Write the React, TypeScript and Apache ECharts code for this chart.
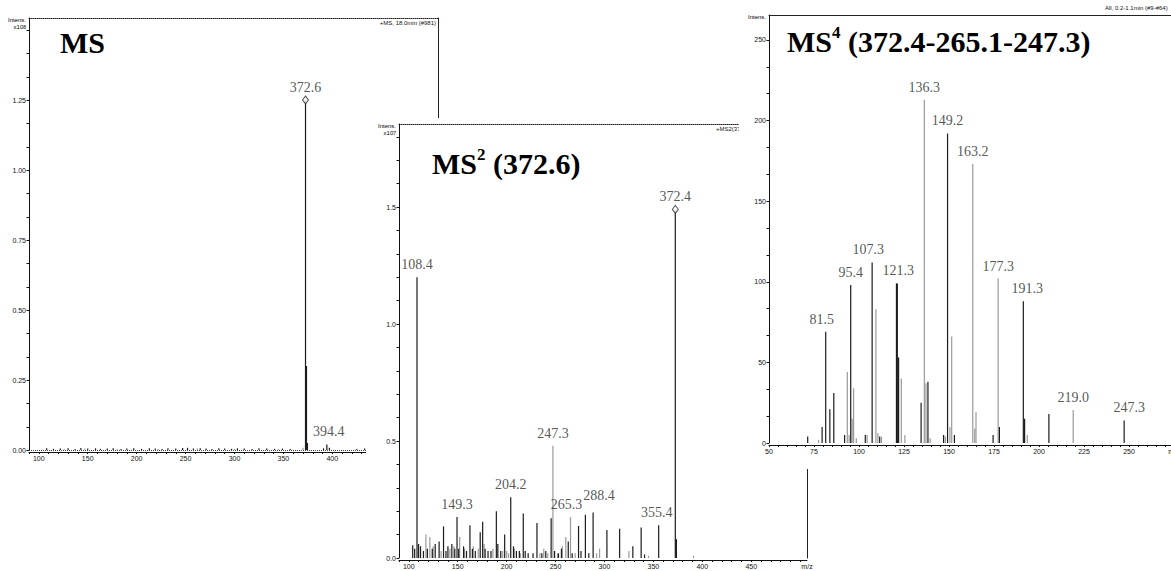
import React, { useEffect, useRef } from 'react';
import * as echarts from 'echarts';

// ---------- DATA ----------
// Panel 1: MS full scan (intensity x10^8)
const ms1Black: [number, number][] = [
  [108, 0.006], [115, 0.004], [122, 0.005], [130, 0.006], [137, 0.004], [143, 0.007], [150, 0.005],
  [158, 0.006], [163, 0.004], [170, 0.005], [176, 0.006], [184, 0.004], [190, 0.005], [197, 0.006],
  [205, 0.004], [213, 0.006], [219, 0.005], [226, 0.004], [232, 0.006], [240, 0.005], [247, 0.007],
  [252, 0.008], [258, 0.005], [265, 0.006], [271, 0.005], [277, 0.004], [284, 0.006], [290, 0.005],
  [297, 0.004], [303, 0.006], [310, 0.005], [318, 0.004], [325, 0.006], [333, 0.005], [341, 0.004],
  [349, 0.005], [357, 0.004], [372.6, 1.25], [373.6, 0.3], [374.6, 0.025], [391, 0.006],
  [394.4, 0.02], [397, 0.008], [425, 0.004], [433, 0.005],
];
const ms1Grey: [number, number][] = [
  [126, 0.004], [147, 0.005], [180, 0.004], [222, 0.004], [262, 0.005], [300, 0.004], [345, 0.004], [370, 0.008],
];
const ms1Labeled = [372.6, 394.4];
const ms1Precursor = [372.6];

// Panel 2: MS2 (372.6) (intensity x10^7)
const ms2Black: [number, number][] = [
  [104, 0.055], [106, 0.04], [108.4, 1.2], [110, 0.06], [112, 0.05], [115, 0.03], [119, 0.04], [124, 0.04],
  [127, 0.06], [131, 0.07], [135.5, 0.135], [138, 0.03], [140, 0.05], [144, 0.06], [147, 0.04], [149.3, 0.175],
  [151, 0.04], [156, 0.05], [159, 0.03], [162.5, 0.14], [165, 0.04], [168, 0.03], [173, 0.11], [175.5, 0.155],
  [178, 0.04], [181, 0.03], [184, 0.03], [189.5, 0.2], [191, 0.06], [194, 0.03], [198, 0.1], [204.2, 0.26],
  [207, 0.05], [210, 0.03], [213, 0.03], [217, 0.19], [219, 0.03], [222, 0.02], [227, 0.02], [231, 0.15],
  [236, 0.02], [240, 0.03], [245.5, 0.17], [249, 0.03], [253, 0.02], [256, 0.04], [263, 0.07], [267, 0.02],
  [273.5, 0.137], [276, 0.03], [280.5, 0.185], [284, 0.02], [288.4, 0.195], [302.5, 0.12], [315.5, 0.125],
  [329, 0.05], [337.5, 0.13], [341, 0.015], [355.4, 0.14], [372.4, 1.49], [373.2, 0.08], [373.5, 0.08],
];
const ms2Grey: [number, number][] = [
  [117.5, 0.1], [121.5, 0.09], [125, 0.05], [133, 0.03], [142, 0.04], [146, 0.05], [152, 0.09], [157, 0.04],
  [166, 0.05], [171, 0.04], [177, 0.06], [186, 0.04], [196, 0.03], [200, 0.03], [202, 0.02], [208, 0.04],
  [214, 0.02], [234, 0.02], [238, 0.04], [242, 0.02], [247.3, 0.48], [252, 0.02], [257, 0.05], [260.5, 0.09],
  [265.3, 0.175], [270, 0.02], [292, 0.02], [295, 0.04], [325, 0.03], [345, 0.01], [391, 0.01],
];
const ms2Labeled = [108.4, 149.3, 204.2, 247.3, 265.3, 288.4, 355.4, 372.4];
const ms2Precursor = [372.4];

// Panel 3: MS4 (372.4-265.1-247.3) (intensity, counts)
const ms4Black: [number, number][] = [
  [71.5, 4], [79.5, 10], [81.5, 69], [83.8, 21], [86, 31], [92, 5], [95.4, 98], [103.5, 5], [107.3, 112],
  [111.5, 4], [120.8, 99], [121.3, 99], [122, 53], [134.5, 25], [138.3, 38], [147, 5], [149.2, 192],
  [153, 5], [174.5, 5], [178, 10], [191.3, 88], [192, 15], [205.5, 18], [247.3, 14],
];
const ms4Grey: [number, number][] = [
  [77.5, 2], [93.5, 44], [94.5, 5], [96.2, 15], [97, 34], [98.5, 3], [104.5, 5], [109.4, 83], [110.5, 6],
  [112.5, 4], [123.5, 40], [125.5, 5], [136.3, 213], [137.2, 37], [139.5, 3], [148, 4], [150.5, 10],
  [151.5, 66], [163.2, 173], [164.3, 9], [165, 19], [177.3, 102], [193.5, 5], [219.0, 20.5],
];
const ms4Labeled = [81.5, 95.4, 107.3, 121.3, 136.3, 149.2, 163.2, 177.3, 191.3, 219.0, 247.3];

// Axis ticks / labels
const ms1XLabels = [100, 150, 200, 250, 300, 350, 400];
const ms1YLabels = [0, 0.25, 0.5, 0.75, 1.0, 1.25];
const ms2XLabels = [100, 150, 200, 250, 300, 350, 400, 450];
const ms2YLabels = [0, 0.5, 1.0, 1.5];
const ms4XLabels = [50, 75, 100, 125, 150, 175, 200, 225, 250];
const ms4YLabels = [0, 50, 100, 150, 200, 250];

// ---------- helpers ----------
const range = (a: number, b: number, step: number) => {
  const out: number[] = [];
  for (let v = a; v <= b + 1e-9; v += step) out.push(Math.round(v * 1000) / 1000);
  return out;
};

const BLACK = '#1c1c1c';
const GREY = '#9a9a9a';
const tickFont = { fontFamily: 'Liberation Sans, Arial, sans-serif', fontSize: 7, color: '#111' };

type Panel = {
  grid: { left: number; top: number; width: number; height: number };
  xMin: number; xMax: number; yMax: number;
  xLabels: number[]; xTickStep: number;
  yLabels: number[]; yTickStep: number; yTickMax: number; yDigits: number;
  topDotted: boolean;
  black: [number, number][]; grey: [number, number][];
  labeled: number[]; precursor: number[];
  offsets: Record<string, [number, number]>;
  z: number;
};

function App() {
  const ref = useRef<HTMLDivElement>(null);
  useEffect(() => {
    if (!ref.current) return;
    const chart = echarts.init(ref.current, null, { renderer: 'svg' });

    const panels: Panel[] = [
      {
        grid: { left: 29, top: 18, width: 409, height: 432 },
        xMin: 90, xMax: 508, yMax: 1.543,
        xLabels: ms1XLabels, xTickStep: 10,
        yLabels: ms1YLabels, yTickStep: 0.25 / 3, yTickMax: 1.5, yDigits: 2,
        topDotted: true, black: ms1Black, grey: ms1Grey, labeled: ms1Labeled, precursor: ms1Precursor,
        offsets: { '394.4': [2, 0] },
        z: 0,
      },
      {
        grid: { left: 399, top: 124, width: 408, height: 434 },
        xMin: 90, xMax: 507, yMax: 1.855,
        xLabels: ms2XLabels, xTickStep: 10,
        yLabels: ms2YLabels, yTickStep: 0.1, yTickMax: 1.8, yDigits: 1,
        topDotted: true, black: ms2Black, grey: ms2Grey, labeled: ms2Labeled, precursor: ms2Precursor,
        offsets: { '265.3': [-4, 0], '288.4': [6, -4], '355.4': [-2, 0] },
        z: 10,
      },
      {
        grid: { left: 769, top: 15, width: 405, height: 428 },
        xMin: 50, xMax: 275, yMax: 265.5,
        xLabels: ms4XLabels, xTickStep: 5,
        yLabels: ms4YLabels, yTickStep: 50 / 3, yTickMax: 265, yDigits: 0,
        topDotted: false, black: ms4Black, grey: ms4Grey, labeled: ms4Labeled, precursor: [],
        offsets: { '107.3': [-4, 0], '191.3': [4, 0], '247.3': [5, 0], '81.5': [-4, 0], '121.3': [1, 0] },
        z: 20,
      },
    ];

    const grids: any[] = [];
    const xAxes: any[] = [];
    const yAxes: any[] = [];
    const series: any[] = [];

    panels.forEach((p, i) => {
      grids.push({ ...p.grid, show: false, outerBoundsMode: 'none', containLabel: false });
      const xMain = xAxes.length;
      xAxes.push({
        type: 'value', gridIndex: i, min: p.xMin, max: p.xMax, position: 'bottom', offset: 2, z: p.z + 1,
        axisLine: { show: true, onZero: false, lineStyle: { color: '#111', width: 1 } },
        axisTick: { show: true, length: 2, customValues: range(p.xMin, p.xMax, p.xTickStep), lineStyle: { color: '#111' } },
        axisLabel: {
          ...tickFont, margin: 3, customValues: [...p.xLabels, p.xMax],
          formatter: (v: number) => (Math.abs(v - p.xMax) < 1e-6 ? 'm/z' : String(v)),
        },
        splitLine: { show: false },
      });
      xAxes.push({
        type: 'value', gridIndex: i, min: p.xMin, max: p.xMax, position: 'top', z: p.z + 1,
        axisLine: { show: true, onZero: false, lineStyle: { color: '#222', width: 1, type: p.topDotted ? 'dotted' : 'solid' } },
        axisTick: { show: false }, axisLabel: { show: false }, splitLine: { show: false },
      });
      const yMain = yAxes.length;
      yAxes.push({
        type: 'value', gridIndex: i, min: 0, max: p.yMax, position: 'left', z: p.z + 1,
        axisLine: { show: true, onZero: false, lineStyle: { color: '#111', width: 1 } },
        axisTick: { show: true, length: 2.5, customValues: range(0, p.yTickMax, p.yTickStep), lineStyle: { color: '#111' } },
        axisLabel: {
          ...tickFont, margin: 3, customValues: p.yLabels,
          formatter: (v: number) => v.toFixed(p.yDigits),
        },
        splitLine: { show: false },
      });
      yAxes.push({
        type: 'value', gridIndex: i, min: 0, max: p.yMax, position: 'right', z: p.z + 1,
        axisLine: { show: true, onZero: false, lineStyle: { color: '#222', width: 1 } },
        axisTick: { show: false }, axisLabel: { show: false }, splitLine: { show: false },
      });

      const barCommon = {
        type: 'bar', xAxisIndex: xMain, yAxisIndex: yMain, barWidth: 1.2, barGap: '-100%',
        z: p.z + 2, silent: true,
      };
      series.push({
        ...barCommon, name: 'grey' + i, data: p.grey, itemStyle: { color: GREY },
        markLine: {
          silent: true, symbol: 'none', label: { show: false },
          lineStyle: { type: 'dotted', color: '#444', width: 1 }, data: [{ yAxis: 0 }],
        },
      });
      series.push({ ...barCommon, name: 'black' + i, data: p.black, itemStyle: { color: BLACK } });

      const all = [...p.black, ...p.grey];
      const findPeak = (mz: number) => all.find((d) => Math.abs(d[0] - mz) < 1e-6)!;
      const isPrec = (mz: number) => p.precursor.some((m) => Math.abs(m - mz) < 1e-6);
      const labelFont = {
        fontFamily: 'Liberation Serif, Times New Roman, serif', fontSize: 14, color: '#2a2a2a',
      };

      series.push({
        type: 'scatter', xAxisIndex: xMain, yAxisIndex: yMain, z: p.z + 3, silent: true,
        symbolSize: 1, itemStyle: { color: 'rgba(0,0,0,0)' },
        data: p.labeled.filter((m) => !isPrec(m)).map((m) => {
          const pk = findPeak(m);
          const key = pk[0].toFixed(1);
          return { value: pk, label: { offset: p.offsets[key] || [0, 0] } };
        }),
        label: {
          show: true, position: 'top', distance: 5, ...labelFont,
          formatter: (q: any) => q.value[0].toFixed(1),
        },
      });
      if (p.precursor.length) {
        series.push({
          type: 'scatter', xAxisIndex: xMain, yAxisIndex: yMain, z: p.z + 4, silent: true,
          symbol: 'diamond', symbolSize: [6, 8],
          itemStyle: { color: '#fff', borderColor: '#222', borderWidth: 1 },
          data: p.precursor.map((m) => findPeak(m)),
          label: {
            show: true, position: 'top', distance: 1, ...labelFont,
            formatter: (q: any) => q.value[0].toFixed(1),
          },
        });
      }
    });

    const smallFont = '6px "Liberation Sans", Arial, sans-serif';
    const serif = 'Liberation Serif, Times New Roman, serif';
    const titleRich = {
      b: { fontFamily: serif, fontWeight: 'bold', fontSize: 30, lineHeight: 34, color: '#222' },
      s: { fontFamily: serif, fontWeight: 'bold', fontSize: 17, lineHeight: 34, verticalAlign: 'top', color: '#222' },
    };
    const axRich = {
      a: { fontFamily: 'Liberation Sans, Arial, sans-serif', fontSize: 6, color: '#111' },
      u: { fontFamily: 'Liberation Sans, Arial, sans-serif', fontSize: 5, color: '#111', verticalAlign: 'top' },
    };

    const graphic: any[] = [
      // panel backgrounds (covering)
      { type: 'rect', z: 10, silent: true, shape: { x: 366, y: 118, width: 450, height: 460 }, style: { fill: '#fff' } },
      { type: 'rect', z: 20, silent: true, shape: { x: 739, y: 0, width: 440, height: 469 }, style: { fill: '#fff' } },
      // titles
      { type: 'text', z: 5, silent: true, x: 60, y: 25, style: { text: '{b|MS}', rich: titleRich } },
      { type: 'text', z: 15, silent: true, x: 432, y: 146, style: { text: '{b|MS}{s|2}{b| (372.6)}', rich: titleRich } },
      { type: 'text', z: 25, silent: true, x: 787, y: 24, style: { text: '{b|MS}{s|4}{b| (372.4-265.1-247.3)}', rich: titleRich } },
      // intensity labels
      { type: 'text', z: 5, silent: true, x: 26, y: 17, style: { text: '{a|Intens.}', rich: axRich, textAlign: 'right' } },
      { type: 'text', z: 5, silent: true, x: 26, y: 24, style: { text: '{a|x10}{u|8}', rich: axRich, textAlign: 'right' } },
      { type: 'text', z: 15, silent: true, x: 396, y: 123, style: { text: '{a|Intens.}', rich: axRich, textAlign: 'right' } },
      { type: 'text', z: 15, silent: true, x: 396, y: 130, style: { text: '{a|x10}{u|7}', rich: axRich, textAlign: 'right' } },
      { type: 'text', z: 25, silent: true, x: 766, y: 14, style: { text: '{a|Intens.}', rich: axRich, textAlign: 'right' } },
      // scan annotations
      { type: 'text', z: 5, silent: true, x: 436, y: 20, style: { text: '+MS, 18.0min (#981)', font: smallFont, fill: '#111', textAlign: 'right' } },
      { type: 'text', z: 15, silent: true, x: 716, y: 126, style: { text: '+MS2(372.6), 18.1min (#982)', font: smallFont, fill: '#111' } },
      { type: 'text', z: 25, silent: true, x: 1105, y: 5, style: { text: 'All, 0.2-1.1min (#9-#64)', font: smallFont, fill: '#111' } },
    ];

    chart.setOption({
      animation: false,
      backgroundColor: '#fff',
      grid: grids,
      xAxis: xAxes,
      yAxis: yAxes,
      series,
      graphic: { elements: graphic },
    });
    return () => chart.dispose();
  }, []);

  return (
    <div
      ref={ref}
      style={{ position: 'fixed', left: 0, top: 0, width: 1171, height: 571, background: '#fff' }}
    />
  );
}

export default App;
